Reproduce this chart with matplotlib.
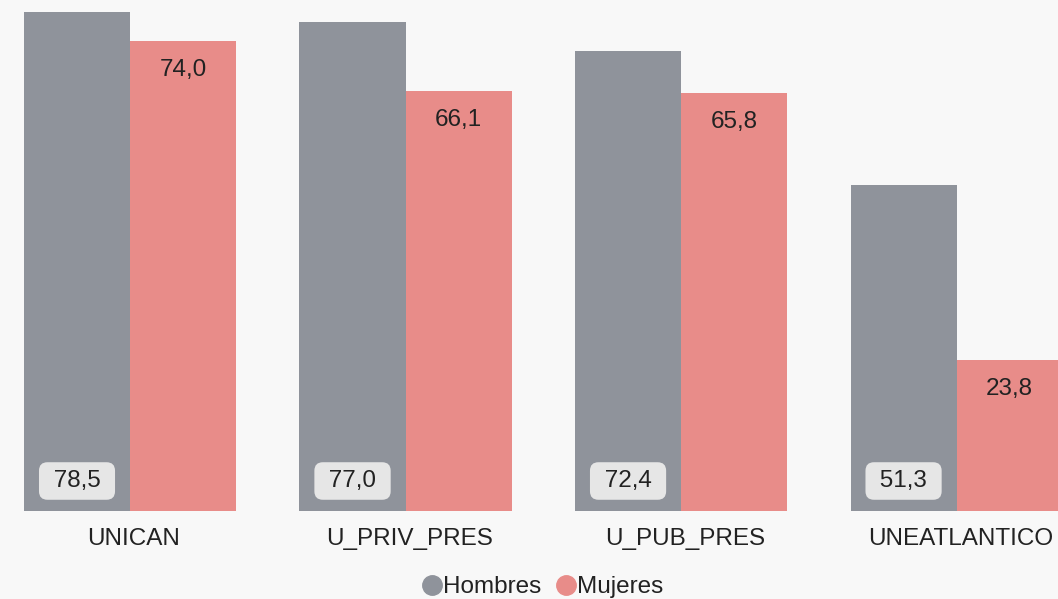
import matplotlib.pyplot as plt
from matplotlib.lines import Line2D
from matplotlib.transforms import ScaledTranslation
import numpy as np

# Data
categories = ["UNICAN", "U_PRIV_PRES", "U_PUB_PRES", "UNEATLANTICO"]
hombres = [78.5, 77.0, 72.4, 51.3]
mujeres = [74.0, 66.1, 65.8, 23.8]

grey = "#8f939b"
pink = "#e88c89"
bg = "#f8f8f8"

plt.rcParams["font.family"] = ["Liberation Sans", "DejaVu Sans"]

fig = plt.figure(figsize=(10.58, 5.99), dpi=100, facecolor=bg)
ax = fig.add_axes([0, 88 / 599, 1, 511 / 599], facecolor=bg)

x = np.arange(len(categories))
w = 0.385
ax.bar(x - w / 2, hombres, width=w, color=grey)
ax.bar(x + w / 2, mujeres, width=w, color=pink)

ax.set_xlim(-0.472, 3.368)
ax.set_ylim(0, 80.4)

def fmt(v):
    return f"{v:.1f}".replace(".", ",")

# Hombres labels in rounded boxes near the bottom
for xi, v in zip(x, hombres):
    ax.annotate(" " + fmt(v) + " ", (xi - w / 2, 0), xytext=(0, 21.6),
                textcoords="offset points", ha="center", va="center",
                fontsize=17.5, color="#222222",
                bbox=dict(boxstyle="round,pad=0.32,rounding_size=0.35",
                          fc="#e6e6e6", ec="none"))

# Mujeres labels just under the bar top
for xi, v in zip(x, mujeres):
    ax.annotate(fmt(v), (xi + w / 2, v), xytext=(0, -21),
                textcoords="offset points", ha="center", va="center",
                fontsize=17.5, color="#222222")

ax.set_xticks(x, categories, fontsize=17.5, color="#222222")
ax.tick_params(axis="x", length=0, pad=12)
# category labels sit a few pixels right of the group centre
shift = ScaledTranslation(0.04, 0, fig.dpi_scale_trans)
for lbl in ax.get_xticklabels():
    lbl.set_transform(lbl.get_transform() + shift)
ax.set_yticks([])
for s in ax.spines.values():
    s.set_visible(False)

handles = [
    Line2D([], [], marker="o", linestyle="none", color=grey, markersize=14),
    Line2D([], [], marker="o", linestyle="none", color=pink, markersize=14),
]
fig.legend(handles, ["Hombres", "Mujeres"], loc="center",
           bbox_to_anchor=(0.513, 12 / 599), ncol=2, frameon=False,
           fontsize=17.5, handlelength=0.8, handletextpad=0.05,
           columnspacing=0.6, labelcolor="#222222")

fig.savefig("out.png", dpi=100, facecolor=bg)
